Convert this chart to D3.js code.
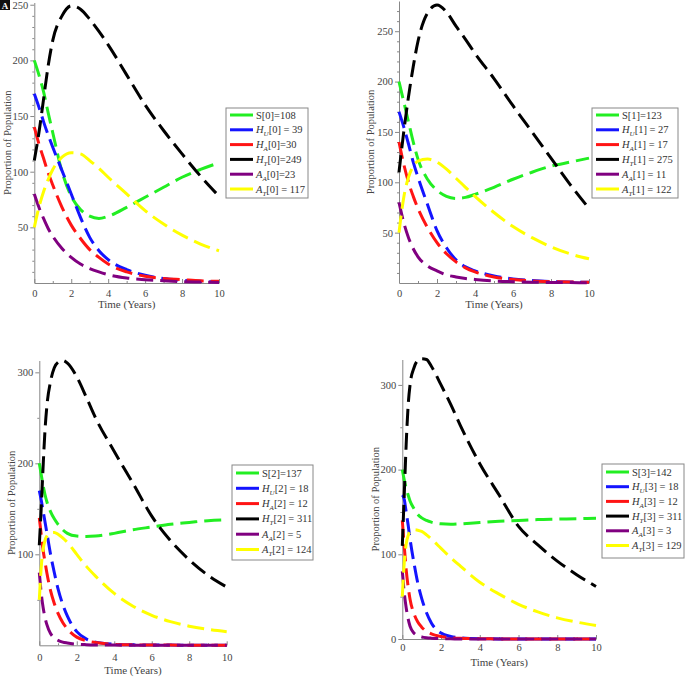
<!DOCTYPE html>
<html>
<head>
<meta charset="utf-8">
<script src="https://cdn.jsdelivr.net/npm/d3@7"></script>
<style>
  body { margin: 0; background: #fff; }
  text { font-family: "Liberation Serif", "DejaVu Serif", serif; }
</style>
</head>
<body>
<svg id="chart" width="687" height="677"></svg>
<script>
// time grids (years)
const timesAB = [0, 0.25, 0.5, 0.75, 1, 1.5, 2, 2.5, 3, 3.5, 4, 5, 6, 7, 8, 9, 10];
const timesCD = [0, 0.1, 0.2, 0.3, 0.4, 0.6, 0.8, 1, 1.25, 1.5, 2, 2.5, 3, 4, 5, 6, 7, 8, 9, 10];

// panel A (index 0)
const s0  = [200, 187, 172, 153, 135, 100, 78, 66, 60, 58, 60, 68, 77, 86, 95, 102, 108];
const hu0 = [170, 158, 145, 133, 122, 101, 80, 59, 41, 29, 21, 12, 7, 4, 2.5, 1.5, 1];
const ha0 = [140, 125, 112, 99, 88, 68, 52, 40, 30, 23, 17, 10, 6, 4, 3, 2, 1.5];
const ht0 = [110, 135, 165, 195, 218, 240, 249, 246, 237, 226, 214, 187, 160, 137, 116, 96, 78];
const aa0 = [80, 68, 58, 49, 42, 31, 23, 17, 13, 10, 7.5, 4.5, 3, 2, 1.2, 0.8, 0.5];
const at0 = [50, 68, 82, 93, 102, 113, 117, 116, 110, 103, 95, 80, 65, 53, 43, 35, 29];
const labels0 = ["S[0]=108", "H_U[0] = 39", "H_A[0]=30", "H_T[0]=249", "A_A[0]=23", "A_T[0] = 117"];

// panel B (index 1)
const s1  = [200, 180, 160, 140, 123, 103, 92, 86, 84, 85, 88, 95, 103, 110, 116, 120, 124];
const hu1 = [170, 155, 138, 120, 105, 78, 52, 35, 23, 16, 12, 7, 4, 2.5, 1.5, 1, 0.7];
const ha1 = [140, 118, 100, 86, 74, 55, 40, 29, 21, 15, 11, 6, 3.5, 2, 1.3, 1, 0.7];
const ht1 = [110, 150, 185, 215, 240, 268, 276, 269, 255, 242, 228, 203, 176, 150, 124, 98, 74];
const aa1 = [80, 60, 45, 34, 26, 17, 12, 8, 6, 4.5, 3.5, 2, 1.3, 0.8, 0.5, 0.4, 0.3];
const at1 = [50, 85, 105, 116, 121, 123, 120, 113, 104, 95, 86, 70, 56, 45, 36, 29, 24];
const labels1 = ["S[1]=123", "H_U[1] = 27", "H_A[1] = 17", "H_T[1] = 275", "A_A[1] = 11", "A_T[1] = 122"];

// panel C (index 2)
const s2  = [200, 188, 176, 166, 158, 147, 139, 133, 127, 123, 120, 119.5, 120, 123, 127, 130, 133, 135, 137, 138];
const hu2 = [170, 160, 148, 136, 124, 100, 80, 62, 45, 32, 15, 7, 3.5, 1.2, 0.5, 0.3, 0.2, 0.1, 0.1, 0.1];
const ha2 = [140, 122, 105, 92, 80, 60, 46, 35, 25, 18, 9, 5, 3, 1, 0.5, 0.3, 0.2, 0.1, 0.1, 0.1];
const ht2 = [110, 150, 195, 235, 262, 290, 305, 311, 313, 310, 295, 273, 250, 213, 178, 142, 115, 94, 77, 64];
const aa2 = [80, 58, 42, 31, 23, 13, 8, 5.5, 3.5, 2.5, 1.2, 0.7, 0.4, 0.2, 0.1, 0.1, 0, 0, 0, 0];
const at2 = [50, 85, 105, 115, 120, 123.5, 124, 122, 118, 113, 100, 87, 76, 57, 43, 33, 26, 21, 17.5, 15];
const labels2 = ["S[2]=137", "H_U[2] = 18", "H_A[2] = 12", "H_T[2] = 311", "A_A[2] = 5", "A_T[2] = 124"];

// panel D (index 3)
const s3  = [200, 188, 178, 170, 163, 154, 147, 143, 140, 138, 136, 135.5, 136, 137.5, 139, 140, 141, 141.5, 142, 142.5];
const hu3 = [170, 165, 150, 135, 118, 90, 66, 48, 31, 19, 7, 3, 1.3, 0.3, 0.1, 0, 0, 0, 0, 0];
const ha3 = [140, 110, 82, 62, 47, 30, 20, 14, 9, 6, 3, 1.5, 0.8, 0.3, 0.1, 0, 0, 0, 0, 0];
const ht3 = [110, 170, 230, 275, 300, 320, 329, 331, 330, 322, 300, 277, 252, 207, 170, 133, 111, 92, 76, 62];
const aa3 = [80, 55, 37, 24, 15, 7, 4, 2.5, 1.5, 1, 0.5, 0.2, 0.1, 0, 0, 0, 0, 0, 0, 0];
const at3 = [50, 90, 112, 122, 127, 129, 128.5, 127, 123, 118, 107, 96, 86, 67, 53, 41, 32, 25, 20, 16];
const labels3 = ["S[3]=142", "H_U[3] = 18", "H_A[3] = 12", "H_T[3] = 311", "A_A[3] = 3", "A_T[3] = 129"];

// ticks
const xTicks = [0, 2, 4, 6, 8, 10];
const xMinor = [1, 3, 5, 7, 9];
const yTicksAB = [50, 100, 150, 200, 250];
const yTicksC = [100, 200, 300];
const yTicksD = [0, 100, 200, 300];

const colors = ["#22ee22", "#1414ff", "#ff1414", "#000000", "#800080", "#ffff00"];

const svg = d3.select("#chart");

// panel placement (pixels)
const panels = [
  { times: timesAB, series: [s0, hu0, ha0, ht0, aa0, at0], labels: labels0,
    x0: 34.3, x1: 219, yBot: 283, yTop: 2.5, yMax: 252, yTicks: yTicksAB, yMinorStep: 10,
    tickY: 7, titleY: 308, yLabelX: 7, box: [226, 108, 82, 90], rowY: 115, rowStep: 14.8 },
  { times: timesAB, series: [s1, hu1, ha1, ht1, aa1, at1], labels: labels1,
    x0: 399, x1: 589, yBot: 283, yTop: 1, yMax: 280, yTicks: yTicksAB, yMinorStep: 10,
    tickY: 7, titleY: 308, yLabelX: 370, box: [592, 108, 86, 90], rowY: 115, rowStep: 14.8 },
  { times: timesCD, series: [s2, hu2, ha2, ht2, aa2, at2], labels: labels2,
    x0: 39.3, x1: 226.7, yBot: 645.3, yTop: 360.5, yMax: 313, yTicks: yTicksC, yMinorStep: 50,
    tickY: 8, titleY: 674, yLabelX: 11, box: [232, 465, 81, 95], rowY: 473, rowStep: 15.3 },
  { times: timesCD, series: [s3, hu3, ha3, ht3, aa3, at3], labels: labels3,
    x0: 402.3, x1: 596, yBot: 639, yTop: 359.5, yMax: 330, yTicks: yTicksD, yMinorStep: 50,
    tickY: 5, titleY: 666, yLabelX: 375, box: [602, 464, 82, 94], rowY: 472, rowStep: 14.7 }
];

function addLabel(sel, str) {
  const m = str.match(/^([A-Z])_([A-Z])(.*)$/);
  if (!m) { sel.text(str); return; }
  sel.append("tspan").attr("font-style", "italic").text(m[1]);
  sel.append("tspan").attr("font-style", "italic").attr("font-size", "7px").attr("dy", 3).text(m[2]);
  sel.append("tspan").attr("dy", -3).text(m[3]);
}

panels.forEach(p => {
  const x = d3.scaleLinear().domain([0, 10]).range([p.x0, p.x1]);
  const y = d3.scaleLinear().domain([0, p.yMax]).range([p.yBot, p.yTop]);
  const g = svg.append("g");

  // minor ticks
  const yMinor = d3.range(p.yMinorStep, p.yMax, p.yMinorStep).filter(v => !p.yTicks.includes(v));
  g.append("g").attr("transform", `translate(${p.x0},0)`)
    .call(d3.axisLeft(y).tickValues(yMinor).tickSize(2).tickFormat(""))
    .call(a => a.select(".domain").remove())
    .selectAll("line").attr("stroke", "#888");
  g.append("g").attr("transform", `translate(0,${p.yBot})`)
    .call(d3.axisBottom(x).tickValues(xMinor).tickSizeInner(-2).tickSizeOuter(0).tickFormat(""))
    .call(a => a.select(".domain").remove())
    .selectAll("line").attr("stroke", "#888");

  // main axes
  const ya = g.append("g").attr("transform", `translate(${p.x0},0)`)
    .call(d3.axisLeft(y).tickValues(p.yTicks).tickSize(4).tickSizeOuter(0).tickPadding(2));
  const xa = g.append("g").attr("transform", `translate(0,${p.yBot})`)
    .call(d3.axisBottom(x).tickValues(xTicks).tickSizeInner(-4).tickSizeOuter(0).tickPadding(p.tickY));
  [ya, xa].forEach(a => {
    a.select(".domain").attr("stroke", "#888");
    a.selectAll("line").attr("stroke", "#888");
    a.selectAll("text").attr("fill", "#444").attr("font-size", "10.5px")
      .attr("font-family", "Liberation Serif, serif");
  });

  // axis titles
  g.append("text").attr("x", (p.x0 + p.x1) / 2).attr("y", p.titleY)
    .attr("text-anchor", "middle").attr("font-size", "11px").attr("fill", "#444")
    .text("Time (Years)");
  g.append("text")
    .attr("transform", `translate(${p.yLabelX},${(p.yBot + p.yTop) / 2}) rotate(-90)`)
    .attr("text-anchor", "middle").attr("dominant-baseline", "central")
    .attr("font-size", "10.5px").attr("fill", "#444")
    .text("Proportion of Population");

  // curves
  const line = d3.line().x(d => x(d[0])).y(d => y(d[1])).curve(d3.curveMonotoneX);
  p.series.forEach((vals, i) => {
    g.append("path")
      .datum(p.times.map((t, j) => [t, vals[j]]))
      .attr("d", line)
      .attr("fill", "none")
      .attr("stroke", colors[i])
      .attr("stroke-width", 3)
      .attr("stroke-dasharray", "17,7");
  });

  // legend
  const [bx, by, bw, bh] = p.box;
  const lg = g.append("g");
  lg.append("rect").attr("x", bx).attr("y", by).attr("width", bw).attr("height", bh)
    .attr("fill", "#fff").attr("stroke", "#888").attr("stroke-width", 1);
  p.labels.forEach((lab, i) => {
    const ry = p.rowY + i * p.rowStep;
    lg.append("line").attr("x1", bx + 4).attr("x2", bx + 27).attr("y1", ry).attr("y2", ry)
      .attr("stroke", colors[i]).attr("stroke-width", 3);
    const t = lg.append("text").attr("x", bx + 30).attr("y", ry + 3.5)
      .attr("font-size", "10.5px").attr("fill", "#333");
    addLabel(t, lab);
  });
});

// panel letter
svg.append("rect").attr("x", 0).attr("y", 0).attr("width", 10).attr("height", 10).attr("fill", "#111");
svg.append("text").attr("x", 5).attr("y", 8.5).attr("text-anchor", "middle")
  .attr("font-size", "9px").attr("font-weight", "bold").attr("fill", "#fff")
  .attr("font-family", "Liberation Sans, sans-serif").text("A");
</script>
</body>
</html>
